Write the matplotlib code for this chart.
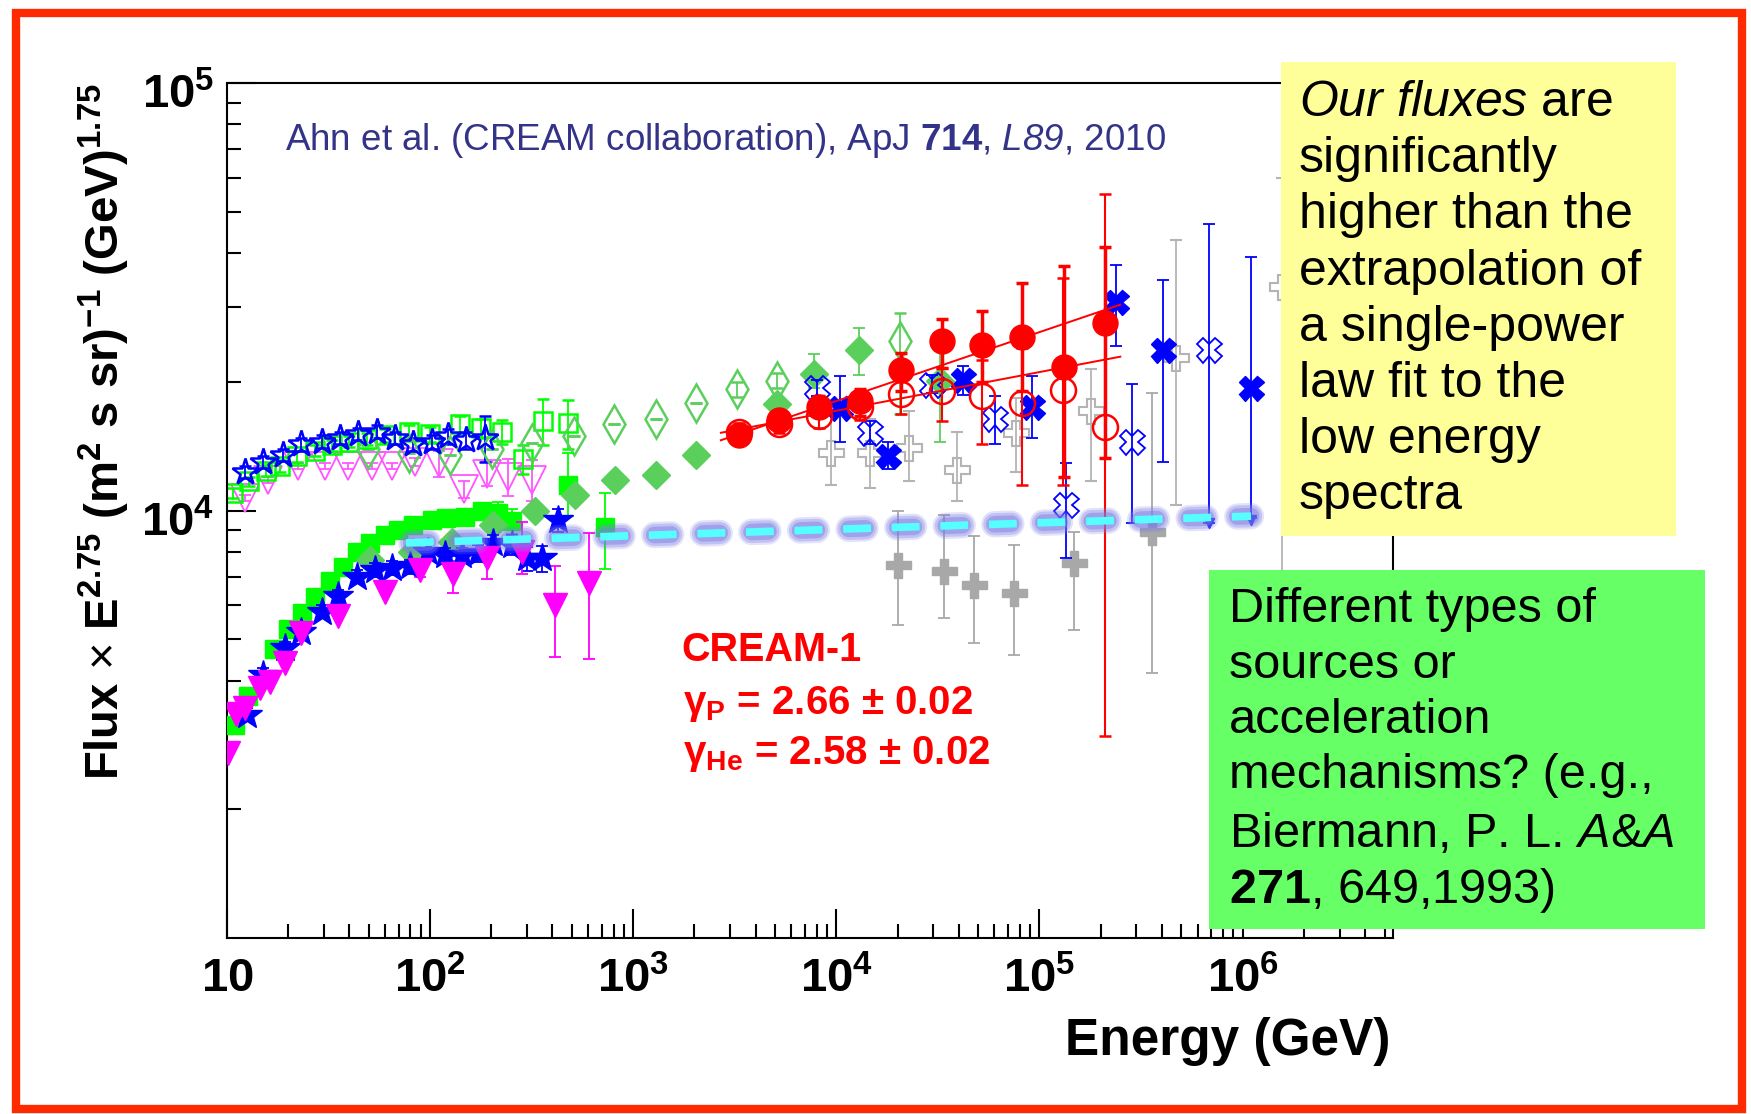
import numpy as np
import matplotlib
matplotlib.use("Agg")
import matplotlib.pyplot as plt
from matplotlib.patches import Rectangle
from matplotlib.ticker import LogLocator, NullFormatter
from matplotlib.transforms import ScaledTranslation

plt.rcParams['font.family'] = ['Liberation Sans', 'DejaVu Sans']
plt.rcParams['mathtext.fontset'] = 'custom'
plt.rcParams['mathtext.rm'] = 'Liberation Sans'
plt.rcParams['mathtext.bf'] = 'Liberation Sans:bold'
plt.rcParams['mathtext.it'] = 'Liberation Sans:italic'
plt.rcParams['mathtext.sf'] = 'Liberation Sans:italic'
plt.rcParams['lines.scale_dashes'] = False

# ---- data (flux x E^2.75 in units of 1e3) ----
# protons, open blue stars
E_pstar = [12.2, 15.0, 18.9, 23.2, 29.2, 36, 44.3, 54.5, 67, 82.6, 102, 123, 150, 187]
F_pstar = [12.3, 13.0, 13.5, 14.3, 14.5, 14.8, 15.1, 15.3, 14.8, 14.3, 14.5, 14.9, 14.6, 14.8]
e_pstar = [0.4, 0.4, 0.45, 0.5, 0.5, 0.5, 0.5, 0.55, 0.5, 0.5, 0.55, 0.6, 0.7, 1.8]

# protons, open green squares
E_psq = [10.7, 12.9, 15.5, 18.2, 22, 27, 33, 40, 49, 60, 79, 100, 140, 178, 225, 288, 361, 480]
F_psq = [11.0, 11.7, 12.4, 12.7, 13.4, 13.8, 14.2, 14.5, 14.7, 15.0, 15.3, 15.1, 15.9, 15.6, 15.3, 13.2, 16.2, 16.0]
e_psq = [0.3, 0.3, 0.35, 0.4, 0.4, 0.4, 0.45, 0.45, 0.5, 0.5, 0.55, 0.6, 0.7, 0.8, 1.0, 1.0, 2.0, 2.1]

# protons, open magenta triangles
E_ptri = [12.2, 15.9, 22.4, 30.3, 39.5, 51.5, 64.6, 84, 110, 146, 190, 243, 316]
F_ptri = [10.7, 11.8, 12.7, 12.7, 12.7, 12.7, 12.7, 13.0, 12.9, 11.2, 12.2, 12.0, 11.8]
e_ptri = [0.2, 0.2, 0.2, 0.2, 0.2, 0.2, 0.2, 0.3, 0.9, 0.5, 0.8, 1.2, 1.3]

# protons, open green diamonds
E_pdia = [49.6, 79, 125, 201, 316, 508, 800, 1290, 2030, 3230, 5090, 20500]
F_pdia = [13.9, 13.6, 13.5, 13.9, 14.4, 14.9, 15.9, 16.4, 17.8, 19.2, 20.1, 24.9]
lo_pdia = [13.9, 13.6, 13.5, 13.9, 14.4, 14.9, 15.9, 16.4, 17.8, 18.4, 19.3, 16.8]
hi_pdia = [13.9, 13.6, 13.5, 13.9, 14.4, 14.9, 15.9, 16.4, 17.8, 20.0, 21.0, 29.0]

# helium, filled green diamonds
E_hdia = [50.6, 81, 128, 205, 329, 518, 817, 1300, 2030, 5090, 7760, 12900, 32300]
F_hdia = [7.67, 8.0, 8.46, 9.26, 9.95, 10.9, 11.8, 12.1, 13.5, 17.7, 20.9, 23.8, 20.1]
lo_hdia = [7.67, 8.0, 8.46, 9.26, 9.95, 10.9, 11.8, 12.1, 13.5, 16.9, 19.3, 20.8, 14.5]
hi_hdia = [7.67, 8.0, 8.46, 9.26, 9.95, 10.9, 11.8, 12.1, 13.5, 18.5, 23.2, 26.7, 23.6]

# helium, filled green squares
E_hsq = [10.9, 12.7, 17.0, 20, 23.3, 27, 32, 37.3, 43.5, 50.6, 60, 69.7, 82.6, 102, 120, 149, 180, 217, 252, 480, 728]
F_hsq = [3.15, 3.68, 4.74, 5.28, 5.75, 6.27, 6.85, 7.37, 8.0, 8.38, 8.77, 9.0, 9.26, 9.5, 9.6, 9.68, 9.95, 9.86, 9.43, 11.5, 9.17]
lo_hsq = [3.05, 3.57, 4.6, 5.12, 5.58, 6.08, 6.65, 7.15, 7.75, 8.12, 8.5, 8.7, 8.95, 9.15, 9.2, 9.25, 9.5, 9.3, 8.8, 9.7, 7.3]
hi_hsq = [3.25, 3.8, 4.9, 5.45, 5.95, 6.47, 7.07, 7.6, 8.26, 8.65, 9.06, 9.3, 9.6, 9.85, 10.0, 10.1, 10.4, 10.45, 10.1, 13.6, 11.0]

# helium, filled blue stars
E_hstar = [12.5, 15.1, 19.3, 23.2, 29.2, 35.2, 43.5, 53.5, 64.6, 79.6, 98, 118.5, 143, 173, 205, 252, 299, 355, 428]
F_hstar = [3.33, 4.12, 4.76, 5.21, 5.8, 6.3, 7.0, 7.26, 7.33, 7.4, 8.0, 7.87, 7.87, 7.94, 8.38, 8.3, 7.73, 7.73, 9.5]
e_hstar = [0.12, 0.15, 0.17, 0.18, 0.2, 0.22, 0.25, 0.26, 0.27, 0.28, 0.3, 0.3, 0.32, 0.35, 0.4, 0.45, 0.5, 0.55, 0.6]

# helium, filled magenta triangles
E_htri = [10.1, 11.1, 12.2, 14.5, 16.2, 19.3, 23.2, 35.2, 60, 89, 130, 190, 283, 413, 603]
F_htri = [2.71, 3.35, 3.45, 3.84, 3.98, 4.39, 5.16, 5.65, 6.46, 7.26, 7.1, 7.75, 8.0, 6.0, 6.75]
lo_htri = [2.71, 3.35, 3.45, 3.84, 3.98, 4.39, 5.16, 5.65, 6.46, 7.0, 6.4, 6.9, 7.1, 4.55, 4.5]
hi_htri = [2.71, 3.35, 3.45, 3.84, 3.98, 4.39, 5.16, 5.65, 6.46, 7.5, 7.6, 8.5, 9.4, 7.4, 8.85]

# CREAM-1 filled red circles (He) and open red circles (p)
E_cr_he = [3300, 5200, 8200, 13060, 20900, 33000, 52000, 82000, 132000, 209000]
F_cr_he = [15.0, 16.3, 17.5, 18.0, 21.3, 24.9, 24.4, 25.5, 21.7, 27.5]
lo_cr_he = [14.4, 15.6, 16.6, 16.6, 19.0, 21.5, 20.0, 19.0, 12.0, 13.3]
hi_cr_he = [15.7, 17.0, 18.5, 19.2, 23.3, 28.0, 29.3, 34.0, 37.3, 41.3]

E_cr_p = [3300, 5200, 8200, 13060, 20900, 33000, 52000, 82000, 130000, 209000]
F_cr_p = [15.3, 15.9, 16.6, 17.5, 18.7, 19.0, 18.5, 17.8, 19.1, 15.7]
lo_cr_p = [14.6, 15.2, 15.6, 16.3, 16.8, 16.2, 14.3, 11.5, 11.5, 2.97]
hi_cr_p = [16.0, 16.6, 17.6, 18.7, 20.6, 21.5, 22.5, 24.0, 35.0, 55.0]

# power-law fit lines (end points)
E_fit = [2700, 250000]
F_fit_he = [14.6, 30.3]
F_fit_p = [15.2, 22.9]

# blue crosses
E_bx = [10400, 17900, 41900, 91600, 238000, 405000, 1100000]
F_bx = [17.4, 13.4, 20.2, 17.5, 30.8, 23.7, 19.3]
lo_bx = [14.5, 12.5, 18.6, 14.8, 24.2, 13.0, 9.6]
hi_bx = [20.6, 14.5, 21.8, 20.6, 37.6, 34.6, 39.2]

E_bxo = [8000, 14700, 29600, 60500, 135000, 284000, 687000]
F_bxo = [19.3, 15.2, 19.7, 16.4, 10.3, 14.5, 23.7]
lo_bxo = [18.5, 14.3, 18.8, 14.3, 7.73, 9.34, 9.35]
hi_bxo = [20.2, 16.2, 20.7, 18.5, 12.9, 19.8, 46.8]

E_arrow = [687000, 1100000]
F_arrow = [9.35, 9.5]

# grey crosses
E_gp = [20000, 33700, 47700, 75000, 148000, 360000]
F_gp = [7.47, 7.2, 6.7, 6.4, 7.53, 8.93]
lo_gp = [5.4, 5.6, 4.9, 4.6, 5.25, 4.16]
hi_gp = [10.0, 9.77, 8.7, 8.3, 8.9, 18.8]

E_gpo = [9360, 14700, 22800, 39300, 77000, 180000, 471000, 1570000]
F_gpo = [13.6, 13.6, 14.0, 12.45, 15.2, 17.1, 22.7, 33.3]
lo_gpo = [11.5, 11.3, 11.7, 10.5, 12.3, 11.7, 10.3, 6.0]
hi_gpo = [16.8, 16.4, 17.1, 15.3, 18.3, 21.4, 43.0, 60.0]

# low-energy extrapolation (dashed)
E_ext = [76, 1100000]
F_ext = [8.4, 9.7]

xticks = [1e1, 1e2, 1e3, 1e4, 1e5, 1e6]
xtick_labels = [r'$\mathbf{10}$', r'$\mathbf{10^{2}}$', r'$\mathbf{10^{3}}$',
                r'$\mathbf{10^{4}}$', r'$\mathbf{10^{5}}$', r'$\mathbf{10^{6}}$']
yticks = [1e4, 1e5]
ytick_labels = [r'$\mathbf{10^{4}}$', r'$\mathbf{10^{5}}$']

fig = plt.figure(figsize=(17.51, 11.14), dpi=100)
W, H = 1751.0, 1114.0
ax = fig.add_axes([227 / W, 176 / H, 1166 / W, 855 / H])


def pts(E, F, err=None, lo=None, hi=None, ecol=None, elw=1.3, **kw):
    F = np.array(F) * 1e3
    yerr = None
    if err is not None:
        yerr = np.array(err) * 1e3
    elif lo is not None:
        yerr = [F - np.array(lo) * 1e3, np.array(hi) * 1e3 - F]
    col = ecol if ecol is not None else kw.get('mec')
    ax.errorbar(E, F, yerr=yerr, linestyle='none', ecolor=col, elinewidth=elw,
                capsize=4.5, capthick=elw, **kw)


blue = '#0000FF'
green = '#00FF00'
gdia = '#5BCF5B'
mag = '#FF00FF'
red = '#FF0000'

# proton-like upper band
pts(E_ptri, F_ptri, err=e_ptri, marker='v', ms=20, mfc='none', mec='#FF55FF', mew=1.3, zorder=2)
pts(E_psq, F_psq, err=e_psq, marker='s', ms=13, mfc='none', mec=green, mew=1.8, zorder=2.2)
pts(E_pstar, F_pstar, err=e_pstar, marker='*', ms=20, mfc='none', mec=blue, mew=1.8, zorder=2.4)
pts(E_pdia, F_pdia, lo=lo_pdia, hi=hi_pdia, marker='d', ms=19, mfc='none', mec=gdia, mew=1.8, zorder=2.3)

# helium-like lower band
pts(E_hsq, F_hsq, lo=lo_hsq, hi=hi_hsq, marker='s', ms=13, mfc=green, mec=green, zorder=2.5)
pts(E_hdia, F_hdia, lo=lo_hdia, hi=hi_hdia, marker='D', ms=14, mfc=gdia, mec=gdia, zorder=2.6)
pts(E_hstar, F_hstar, err=e_hstar, marker='*', ms=22, mfc=blue, mec=blue, zorder=2.7)
pts(E_htri, F_htri, lo=lo_htri, hi=hi_htri, marker='v', ms=17, mfc=mag, mec=mag, zorder=2.8)

# high-energy points
pts(E_gpo, F_gpo, lo=lo_gpo, hi=hi_gpo, marker='P', ms=18, mfc='none', mec='#B4B4B4', mew=1.5, zorder=2.1)
pts(E_gp, F_gp, lo=lo_gp, hi=hi_gp, marker='P', ms=18, mfc='#A8A8A8', mec='#A8A8A8', zorder=2.1)
pts(E_bxo, F_bxo, lo=lo_bxo, hi=hi_bxo, marker='X', ms=18, mfc='none', mec=blue, mew=1.3, zorder=3)
pts(E_bx, F_bx, lo=lo_bx, hi=hi_bx, marker='X', ms=18, mfc=blue, mec=blue, zorder=3.1)
ax.plot(E_arrow, np.array(F_arrow) * 1e3, 'v', ms=7, color=blue, zorder=3.1)

pts(E_cr_p, F_cr_p, lo=lo_cr_p, hi=hi_cr_p, marker='o', ms=18, mfc='none', mec=red, mew=1.8,
    elw=1.5, zorder=4)
pts(E_cr_he, F_cr_he, lo=lo_cr_he, hi=hi_cr_he, marker='o', ms=18, mfc=red, mec=red,
    elw=2.5, zorder=4.2)
ax.plot(E_fit, np.array(F_fit_he) * 1e3, color=red, lw=1.4, zorder=4.3)
ax.plot(E_fit, np.array(F_fit_p) * 1e3, color=red, lw=1.4, zorder=4.3)

# glowing dashed extrapolation: rounded lavender blocks behind cyan dashes
F_ext_abs = np.array(F_ext) * 1e3
for lw, a in [(19, 0.22), (16, 0.32), (12, 0.45)]:
    ax.plot(E_ext, F_ext_abs, color='#7C7CE4', lw=lw, alpha=a,
            dash_capstyle='round', ls=(31.1, (12.2, 22.8)), zorder=5)
ax.plot(E_ext, F_ext_abs, color='#55FFFF', lw=5.5, dash_capstyle='butt',
        ls=(0, (20, 15)), zorder=5.5)

ax.set_xscale('log')
ax.set_yscale('log')
ax.set_xlim(10, 5.5e6)
ax.set_ylim(1e3, 1e5)
ax.set_xticks(xticks, xtick_labels)
ax.set_yticks(yticks, ytick_labels)
ax.xaxis.set_minor_locator(LogLocator(base=10, subs=np.arange(2, 10), numticks=30))
ax.yaxis.set_minor_locator(LogLocator(base=10, subs=np.arange(2, 10), numticks=30))
ax.xaxis.set_minor_formatter(NullFormatter())
ax.yaxis.set_minor_formatter(NullFormatter())
ax.tick_params(which='both', direction='in', top=False, right=False, width=1.5, labelsize=34)
ax.tick_params(which='major', length=21)
ax.tick_params(which='minor', length=10)
ax.tick_params(axis='x', which='major', pad=14)
ax.tick_params(axis='y', which='major', pad=9)
for lab in ax.get_yticklabels():
    lab.set_transform(lab.get_transform() + ScaledTranslation(0, -6 / 72, fig.dpi_scale_trans))
for s in ax.spines.values():
    s.set_linewidth(1.5)

# axis titles and annotations
fig.text(104 / W, 1 - 432 / H,
         r'Flux $\times$ E$^{\mathbf{2.75}}$ (m$^{\mathbf{2}}$ s sr)$^{\mathbf{-1}}$ (GeV)$^{\mathbf{1.75}}$',
         rotation=90, ha='center', va='center', fontsize=34, weight='bold')
fig.text(1390 / W, 1 - 1042 / H, 'Energy (GeV)', ha='right', va='center', fontsize=37, weight='bold')
fig.text(285 / W, 1 - 140 / H,
         r'Ahn et al. (CREAM collaboration), ApJ $\mathbf{714}$, $\mathsf{L89}$, 2010',
         ha='left', va='center', fontsize=26.5, color='#333388')
fig.text(681 / W, 1 - 661 / H, 'CREAM-1', color=red, weight='bold', fontsize=28.5, va='baseline')
fig.text(683 / W, 1 - 714 / H, r'γ$_{\mathbf{P}}$ = 2.66 ± 0.02', color=red, weight='bold',
         fontsize=29, va='baseline')
fig.text(683 / W, 1 - 764 / H, r'γ$_{\mathbf{He}}$ = 2.58 ± 0.02', color=red, weight='bold',
         fontsize=29, va='baseline')

# note boxes
fig.add_artist(Rectangle((1281 / W, 1 - 536 / H), 395 / W, 474 / H, transform=fig.transFigure,
                         facecolor='#FFFF99', edgecolor='none', zorder=10))
fig.add_artist(Rectangle((1209 / W, 1 - 929 / H), 496 / W, 359 / H, transform=fig.transFigure,
                         facecolor='#66FF66', edgecolor='none', zorder=10))

yellow_lines = [r'$\mathit{Our}$ $\mathit{fluxes}$ are', 'significantly', 'higher than the',
                'extrapolation of', 'a single-power', 'law fit to the', 'low energy', 'spectra']
for i, s in enumerate(yellow_lines):
    fig.text(1299 / W, 1 - (116 + 56.2 * i) / H, s, fontsize=36, va='baseline', ha='left', zorder=11)

green_lines = ['Different types of', 'sources or', 'acceleration', 'mechanisms? (e.g.,',
               r'Biermann, P. L. $\mathit{A}$&$\mathit{A}$', r'$\mathbf{271}$, 649,1993)']
green_y = [622, 678, 733, 788, 847, 903]
for s, y in zip(green_lines, green_y):
    fig.text(1229 / W, 1 - y / H, s, fontsize=35, va='baseline', ha='left', zorder=11)

# red frame
fig.add_artist(Rectangle((16 / W, 1 - 1109 / H), 1726 / W, 1096 / H, transform=fig.transFigure,
                         facecolor='none', edgecolor='#FF2A00', lw=6, zorder=12))

fig.savefig('out.png', dpi=100)
